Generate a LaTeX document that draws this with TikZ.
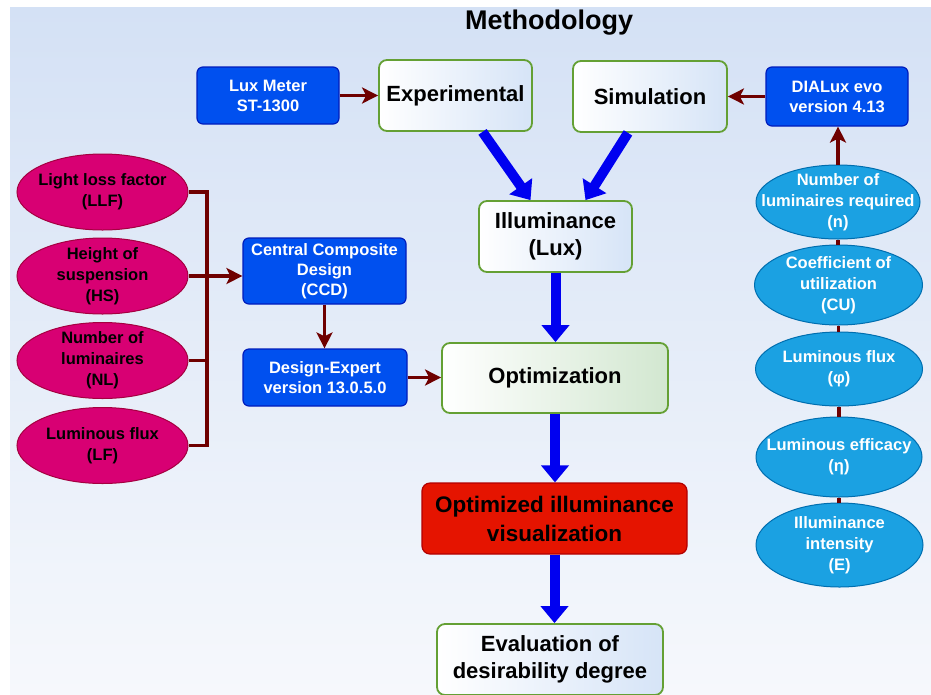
\documentclass[tikz,border=0pt]{standalone}
\usepackage{fontspec}
\setmainfont{Liberation Sans}
\usetikzlibrary{arrows.meta,shapes.geometric,calc}
\definecolor{bgtop}{HTML}{D4E1F5}
\definecolor{bgbot}{HTML}{F6F8FC}
\definecolor{bluefill}{HTML}{0050EF}
\definecolor{bluedraw}{HTML}{001DBC}
\definecolor{grn}{HTML}{64A034}
\definecolor{lblue}{HTML}{D6E4F7}
\definecolor{lgreen}{HTML}{D2E7D0}
\definecolor{redfill}{HTML}{E51400}
\definecolor{reddraw}{HTML}{B20000}
\definecolor{magfill}{HTML}{D80073}
\definecolor{magdraw}{HTML}{A50040}
\definecolor{cyfill}{HTML}{1BA1E2}
\definecolor{cydraw}{HTML}{006EAF}
\definecolor{brn}{HTML}{6F0000}
\definecolor{arrblue}{HTML}{0000F0}
\tikzset{
  bluebox/.style={draw=bluedraw, fill=bluefill, line width=1.2pt, rounded corners=6pt, text=white, font=\bfseries\fontsize{16.5}{20}\selectfont, align=center, inner sep=0pt},
  greenbox/.style={draw=grn, line width=1.8pt, rounded corners=8pt, left color=white, right color=lblue, font=\bfseries\fontsize{22}{27}\selectfont, align=center, inner sep=0pt},
  magell/.style={ellipse, draw=magdraw, fill=magfill, line width=1pt, inner sep=0pt, minimum width=171pt, minimum height=76pt},
  cyell/.style={ellipse, draw=cydraw, fill=cyfill, line width=1pt, inner sep=0pt},
  magtxt/.style={font=\bfseries\fontsize{16.5}{21}\selectfont, align=center, inner sep=0pt},
  cytxt/.style={text=white, font=\bfseries\fontsize{16.5}{21}\selectfont, align=center, inner sep=0pt},
  brarrow/.style={draw=brn, line width=3.2pt, -{Stealth[length=16pt,width=16pt,inset=4pt]}},
  brline/.style={draw=brn, line width=3.2pt},
  bigarrow/.style={draw=arrblue, line width=10pt, -{Triangle[length=17pt,width=27pt]}},
}
\begin{document}
\begin{tikzpicture}[x=1pt,y=-1pt]
\useasboundingbox (0,0) rectangle (931,694);
\clip (0,0) rectangle (931,694);
\fill[white] (0,0) rectangle (931,694);
\shade[top color=bgtop, bottom color=bgbot] (10,7) rectangle (931,694);

\node[font=\bfseries\fontsize{27}{30}\selectfont] (title) at (549,23) {Methodology};

\node[bluebox, minimum width=142pt, minimum height=57pt] (lux) at (268,95.5) {Lux Meter\\ST-1300};
\node[greenbox, minimum width=153pt, minimum height=71pt] (exp) at (455.5,95.5) {Experimental};
\node[greenbox, minimum width=154pt, minimum height=71pt] (sim) at (650,96.5) {Simulation};
\node[bluebox, minimum width=142pt, minimum height=59pt] (dia) at (837,96.5) {DIALux evo\\version 4.13};
\node[greenbox, minimum width=153pt, minimum height=71pt] (ill) at (555.5,236.5) {Illuminance\\(Lux)};
\node[greenbox, right color=lgreen, minimum width=226pt, minimum height=70pt] (opt) at (555,378) {Optimization};
\node[draw=reddraw, fill=redfill, line width=1.2pt, rounded corners=8pt, font=\bfseries\fontsize{22.5}{29}\selectfont, align=center, inner sep=0pt, minimum width=265pt, minimum height=71pt] (oiv) at (554.5,518.5) {Optimized illuminance\\visualization};
\node[greenbox, minimum width=226pt, minimum height=71pt] (eva) at (550,659.5) {Evaluation of\\desirability degree};

\node[bluebox, minimum width=163pt, minimum height=66pt] (ccd) at (324.5,271) {Central Composite\\Design\\(CCD)};
\node[bluebox, minimum width=164pt, minimum height=57pt] (dex) at (325,377.5) {Design-Expert\\version 13.0.5.0};

\node[magell] (llf) at (102.5,192) {};
\node[magtxt] (llft) at (llf) {Light loss factor\\(LLF)};
\node[magell] (hs) at (102.5,276) {};
\node[magtxt] (hst) at (hs) {Height of\\suspension\\(HS)};
\node[magell] (nl) at (102.5,360.5) {};
\node[magtxt] (nlt) at (nl) {Number of\\luminaires\\(NL)};
\node[magell] (lf) at (102.5,445.5) {};
\node[magtxt] (lft) at (lf) {Luminous flux\\(LF)};

\node[cyell, minimum width=164pt, minimum height=74pt] (n) at (838,202) {};
\node[cytxt] (nt) at (n) {Number of\\luminaires required\\(n)};
\node[cyell, minimum width=168pt, minimum height=80pt] (cu) at (838.5,285) {};
\node[cytxt] (cut) at (cu) {Coefficient of\\utilization\\(CU)};
\node[cyell, minimum width=167pt, minimum height=74pt] (phi) at (839,369) {};
\node[cytxt] (phit) at (phi) {Luminous flux\\(φ)};
\node[cyell, minimum width=166pt, minimum height=80pt] (eta) at (839,457) {};
\node[cytxt] (etat) at (eta) {Luminous efficacy\\(η)};
\node[cyell, minimum width=167pt, minimum height=84pt] (e) at (839.5,545) {};
\node[cytxt] (et) at (e) {Illuminance\\intensity\\(E)};

% brown connectors
\draw[brarrow] (lux.east) -- (exp.west);
\draw[brarrow] (dia.west) -- (sim.east);
\draw[brarrow] (n.north) -- (n.north |- dia.south);
\coordinate (br) at (207,0);
\draw[brline] (llf.east) -- (llf.east -| br) -- (lf.east -| br) -- (lf.east);
\draw[brline] (nl.east) -- (nl.east -| br);
\draw[brarrow] (hs.east) -- (hs.east -| ccd.west);
\draw[brarrow] (ccd.south) -- (ccd.south |- dex.north);
\draw[brarrow] (dex.east) -- (dex.east -| opt.west);
\draw[brline] (n.south) -- (n.south |- cu.north);
\draw[brline] (cu.south) -- (cu.south |- phi.north);
\draw[brline] (phi.south) -- (phi.south |- eta.north);
\draw[brline] (eta.south) -- (eta.south |- e.north);

% blue arrows
\draw[bigarrow] ([xshift=27pt]exp.south) -- ([xshift=-25pt]ill.north);
\draw[bigarrow] ([xshift=-22pt]sim.south) -- ([xshift=30pt]ill.north);
\draw[bigarrow] (ill.south) -- (ill.south |- opt.north);
\draw[bigarrow] (opt.south) -- (opt.south |- oiv.north);
\draw[bigarrow] (oiv.south) -- (oiv.south |- eva.north);
\end{tikzpicture}
\end{document}
